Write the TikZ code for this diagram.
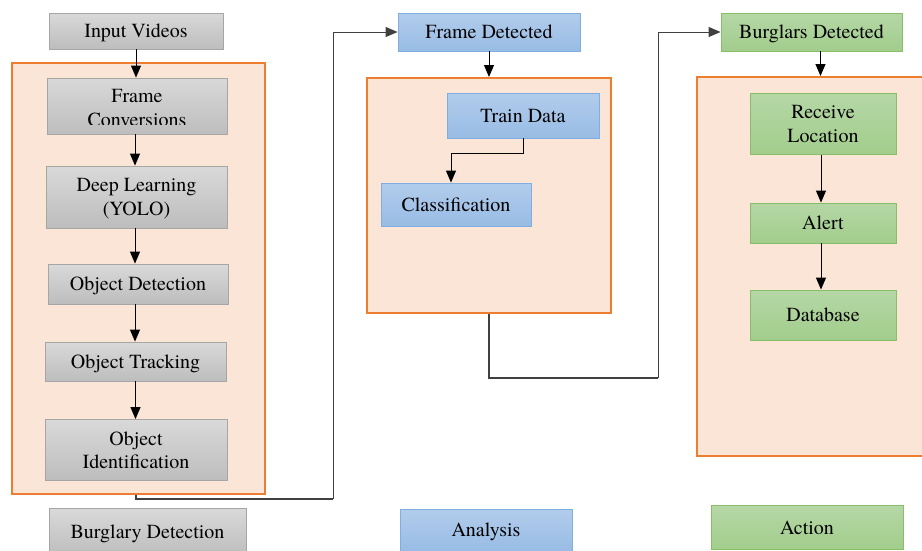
\documentclass[tikz,border=0pt]{standalone}
\usepackage{fontspec}
\setmainfont{texgyretermes}[Extension=.otf, UprightFont=*-regular, BoldFont=*-bold, ItalicFont=*-italic, BoldItalicFont=*-bolditalic]
\usetikzlibrary{arrows.meta,shadings}
\definecolor{panelfill}{HTML}{FBE5D6}
\definecolor{paneledge}{HTML}{ED7D31}
\definecolor{grayA}{HTML}{D9D9D9}
\definecolor{grayB}{HTML}{BDBDBD}
\definecolor{grayE}{HTML}{A6A6A6}
\definecolor{blueA}{HTML}{B2CCEB}
\definecolor{blueB}{HTML}{98BCE5}
\definecolor{blueE}{HTML}{7FAEE0}
\definecolor{greenA}{HTML}{B5D7A6}
\definecolor{greenB}{HTML}{A2CD8C}
\definecolor{greenE}{HTML}{86BF68}
\definecolor{wire}{HTML}{404040}
\tikzset{
  box/.style={rectangle, align=center, inner sep=0pt, line width=0.9pt,
    font=\rmfamily\fontsize{20}{23.5}\selectfont, text=black, text depth=-3pt},
  graybox/.style={box, draw=grayE, top color=grayA, bottom color=grayB},
  bluebox/.style={box, draw=blueE, top color=blueA, bottom color=blueB},
  greenbox/.style={box, draw=greenE, top color=greenA, bottom color=greenB},
  panel/.style={rectangle, draw=paneledge, fill=panelfill, line width=2pt, inner sep=0pt},
  flow/.style={-{Triangle[length=12pt,width=10pt]}, line width=1pt, black},
  route/.style={line width=1.3pt, wire},
}
\begin{document}
\begin{tikzpicture}[x=1pt,y=-1pt]
\useasboundingbox (0,0) rectangle (922,550);

% stage panels
\node[panel, minimum width=253pt, minimum height=431pt] (stageA) at (138.5,278.5) {};
\node[panel, minimum width=244pt, minimum height=235pt] (stageB) at (489,195.5) {};
\node[panel, minimum width=240pt, minimum height=379pt] (stageC) at (817,266.5) {};

% burglary detection column
\node[graybox, minimum width=174pt, minimum height=36pt] (in) at (136,31) {Input Videos};
\node[graybox, minimum width=180pt, minimum height=56pt] (fc) at (137,106) {};
\begin{scope}
  \clip (47,78) rectangle (227,124);
  \node[box, anchor=north] (fctext) at (137,89) {Frame\\Conversions};
\end{scope}
\node[graybox, minimum width=181pt, minimum height=62pt] (dl) at (136.5,197) {Deep Learning\\(YOLO)};
\node[graybox, minimum width=180pt, minimum height=40pt] (od) at (138,284) {Object Detection};
\node[graybox, minimum width=181pt, minimum height=39pt] (ot) at (135.5,361.5) {Object Tracking};
\node[graybox, minimum width=182pt, minimum height=61pt] (oi) at (136,450) {Object\\Identification};
\node[graybox, minimum width=197pt, minimum height=47pt] (bd) at (147.5,532) {Burglary Detection};

% analysis column
\node[bluebox, minimum width=182pt, minimum height=38pt] (fd) at (489,32) {Frame Detected};
\node[bluebox, minimum width=152pt, minimum height=45pt] (td) at (523,115.5) {Train Data};
\node[bluebox, minimum width=150pt, minimum height=43pt] (cl) at (456,204.5) {Classification};
\node[bluebox, minimum width=172pt, minimum height=42pt] (an) at (486,530) {Analysis};

% action column
\node[greenbox, minimum width=181pt, minimum height=38pt] (bdt) at (811.5,32) {Burglars Detected};
\node[greenbox, minimum width=146pt, minimum height=61pt] (rl) at (823,124) {Receive\\Location};
\node[greenbox, minimum width=146pt, minimum height=40pt] (al) at (823,223) {Alert};
\node[greenbox, minimum width=146pt, minimum height=50pt] (db) at (823,315) {Database};
\node[greenbox, minimum width=192pt, minimum height=44pt] (ac) at (807,527.5) {Action};

% arrows inside the columns
\draw[flow] (in.south) -- (in.south |- fc.north);
\draw[flow] ([xshift=-2pt]fc.south) -- ([xshift=-2pt]fc.south |- dl.north);
\draw[flow] ([xshift=-1.5pt]dl.south) -- ([xshift=-1.5pt]dl.south |- od.north);
\draw[flow] ([xshift=-3pt]od.south) -- ([xshift=-3pt]od.south |- ot.north);
\draw[flow] (ot.south) -- (ot.south |- oi.north);
\draw[flow] (fd.south) -- (fd.south |- stageB.north);
\draw[flow] (td.south) -- ++(0,15) -| ([xshift=-5pt]cl.north);
\draw[flow] ([xshift=9pt]bdt.south) -- ([xshift=9pt]bdt.south |- stageC.north);
\draw[flow] ([xshift=-2pt]rl.south) -- ([xshift=-2pt]al.north);
\draw[flow] ([xshift=-2pt]al.south) -- ([xshift=-2pt]db.north);

% links between the stages
\coordinate (hopA) at (333,499);
\coordinate (hopB) at (658,378);
\draw[route] (stageA.south -| oi) |- (hopA);
\draw[flow, wire] (hopA) |- (fd.west);
\draw[route] (stageB.south -| fd) |- (hopB);
\draw[flow, wire] (hopB) |- (bdt.west);
\end{tikzpicture}
\end{document}
